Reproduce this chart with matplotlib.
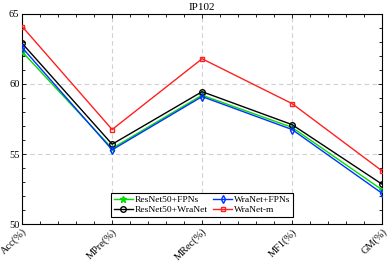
import matplotlib
matplotlib.use("Agg")
import matplotlib.pyplot as plt
from matplotlib.ticker import MultipleLocator

categories = ["Acc(%)", "MPre(%)", "MRec(%)", "MF1(%)", "GM(%)"]
resnet_fpn = [62.3, 55.4, 59.2, 56.9, 52.45]
wranet_fpn = [62.6, 55.3, 59.1, 56.75, 52.2]
resnet_wranet = [62.9, 55.7, 59.45, 57.1, 52.85]
wranet_m = [64.1, 56.75, 61.8, 58.6, 53.8]

plt.rcParams['font.family'] = ['Liberation Serif', 'DejaVu Serif']

fig = plt.figure(figsize=(3.89, 2.63), dpi=100)
ax = fig.add_axes([0.057, 0.148, 0.925, 0.799])
x = list(range(len(categories)))

ax.plot(x, resnet_fpn, color='#00dd00', marker='*', ms=5, lw=1, label='ResNet50+FPNs', zorder=3)
ax.plot(x, resnet_wranet, color='black', marker='o', ms=4, mfc='none', mew=1, lw=1, label='ResNet50+WraNet', zorder=3)
ax.plot(x, wranet_fpn, color='#0033ff', marker='d', ms=4, mfc='none', mew=1, lw=1, label='WraNet+FPNs', zorder=3)
ax.plot(x, wranet_m, color='#ff2020', marker='s', ms=3.5, mfc='none', mew=1, lw=1, label='WraNet-m', zorder=3)

ax.set_xlim(0, 4)
ax.set_ylim(50, 65)
ax.set_xticks(x)
ax.set_xticklabels(categories, rotation=45, ha='right', rotation_mode='anchor', fontsize=7.5)
ax.xaxis.set_minor_locator(MultipleLocator(0.2))
ax.set_yticks([50, 55, 60, 65])
ax.yaxis.set_minor_locator(MultipleLocator(1))
ax.tick_params(axis='both', which='both', direction='in', top=True, right=True, labelsize=7.5, pad=2)
ax.tick_params(which='major', length=3, width=0.6)
ax.tick_params(which='minor', length=2, width=0.6)
ax.grid(True, which='major', linestyle=(0, (4, 3)), color='#d0d0d0', lw=0.8)
for s in ax.spines.values():
    s.set_linewidth(0.8)
ax.set_title("IP102", fontsize=8, pad=3)

leg = ax.legend(ncol=2, loc='lower center', bbox_to_anchor=(0.5, 0.033), fontsize=6.8,
                frameon=True, fancybox=False, edgecolor='black', framealpha=1,
                handlelength=2.0, columnspacing=0.6, borderpad=0.3, labelspacing=0.15,
                handletextpad=0.2, borderaxespad=0)
leg.get_frame().set_linewidth(0.8)

fig.savefig("out.png", dpi=100)
